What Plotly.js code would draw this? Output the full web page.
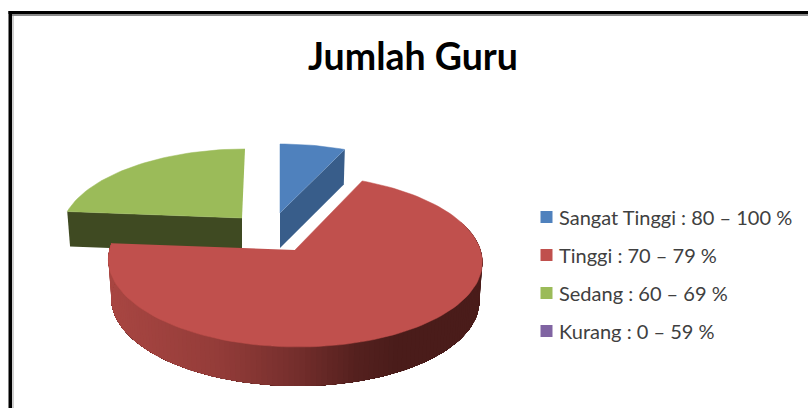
<!DOCTYPE html>
<html>
<head>
<meta charset="utf-8">
<script src="https://cdn.plot.ly/plotly-3.0.1.min.js"></script>
<style>html,body{margin:0;padding:0;background:#fff}#chart{width:808px;height:408px}</style>
</head>
<body>
<div id="chart"></div>
<script>
// Data (share of teachers, %)
const categories = ['Sangat Tinggi : 80 – 100 %', 'Tinggi : 70 – 79 %', 'Sedang : 60 – 69 %', 'Kurang : 0 – 59 %'];
const shares = [6.9, 69.4, 23.7, 0];
const faceColors = ['#4F81BD', '#C0504D', '#9BBB59', '#8064A2'];
const wallColors = ['#385D8A', null, '#3F4A22', null];
const chartTitle = 'Jumlah Guru';

// Projection of each exploded slice on the page (perspective tilted disc)
const views = [
  {cx: 280, cy: 213, a: 80.7, b: 178, k: 0.169, shear: 0, depth: 35},
  {cx: 295, cy: 250, a: 84.8, b: 185.5, k: 0.1257, shear: -3, depth: 39},
  {cx: 242, cy: 218, a: 80.7, b: 178, k: 0.169, shear: 3, depth: 35}
];
const project = (v, deg, lower) => {
  const t = deg * Math.PI / 180, s = Math.sin(t), c = Math.cos(t), d = 1 + v.k * c;
  let x = v.b * s / d + v.shear * c, y = -v.a * c / d;
  if (lower) { x *= 0.984; y += v.depth; }
  return [v.cx + x, v.cy + y];
};
const arc = (v, from, to, lower) => {
  const pts = [], n = Math.max(2, Math.ceil(Math.abs(to - from) / 2));
  for (let i = 0; i <= n; i++) pts.push(project(v, from + (to - from) * i / n, lower));
  return pts;
};
const polygon = (pts, color, width) => ({
  type: 'scatter', mode: 'lines', x: pts.map(p => p[0]), y: pts.map(p => p[1]),
  fill: 'toself', fillcolor: color, line: {color: color, width: width || 0},
  hoverinfo: 'skip', showlegend: false
});
const apex = v => [v.cx, v.cy];
const apexLow = v => [v.cx, v.cy + v.depth];

// slice angle ranges, clockwise from the top
const ranges = []; let acc = 0;
shares.forEach(s => { ranges.push([acc, acc + s * 3.6]); acc += s * 3.6; });

const traces = [];
// green
{
  const v = views[2], [f, t] = ranges[2];
  const cut = [project(v, f), apex(v), apexLow(v), project(v, f, true)];
  traces.push(polygon(cut, wallColors[2]));
  traces.push(polygon([apex(v), ...arc(v, f, t)], faceColors[2], 0.5));
}
// blue
{
  const v = views[0], [f, t] = ranges[0];
  const cut = [apex(v), project(v, t), project(v, t, true), apexLow(v)];
  traces.push(polygon(cut, wallColors[0]));
  traces.push(polygon([apex(v), ...arc(v, f, t)], faceColors[0], 0.5));
}
// red: shaded rim painted from the dark end onward with overlap so no seams show, then face
{
  const v = views[1], [f, t] = ranges[1];
  const stops = [[111, [168, 70, 66]], [220, [148, 60, 57]], [300, [116, 46, 44]], [360, [84, 32, 30]], [400, [74, 28, 26]], [480, [74, 28, 26]]];
  const shade = x => {
    let i = 0; while (i < stops.length - 2 && x > stops[i + 1][0]) i++;
    const [x0, c0] = stops[i], [x1, c1] = stops[i + 1];
    const q = Math.min(1, Math.max(0, (x - x0) / (x1 - x0)));
    return 'rgb(' + c0.map((c, j) => Math.round(c + (c1[j] - c) * q)).join(',') + ')';
  };
  for (let d = 70; d < t - 1; d += 1.5) {
    const rimPts = [...arc(v, d, t), ...arc(v, d, t, true).reverse()];
    traces.push(polygon(rimPts, shade(project(v, d)[0])));
  }
  traces.push(polygon([apex(v), ...arc(v, f, t)], faceColors[1], 0.5));
}
// key: square swatch with its label, one per category
const keyX = 546.5, keyTop = 217, keyStep = 38;
traces.push({
  type: 'scatter', mode: 'markers', x: categories.map(() => keyX), y: categories.map((_, i) => keyTop + i * keyStep),
  marker: {symbol: 'square', size: 12, color: faceColors}, hoverinfo: 'skip', showlegend: false
});

const layout = {
  width: 808, height: 408, margin: {l: 0, r: 0, t: 0, b: 0},
  paper_bgcolor: '#fff', plot_bgcolor: '#fff', showlegend: false,
  title: {text: '<b>' + chartTitle + '</b>', x: 413 / 808, xanchor: 'center', y: 1 - 57 / 408, yanchor: 'middle',
          font: {family: 'Lato, sans-serif', size: 37.5, color: '#000'}},
  xaxis: {range: [0, 808], visible: false, fixedrange: true},
  yaxis: {range: [408, 0], visible: false, fixedrange: true},
  annotations: categories.map((c, i) => ({
    text: c, x: 558, y: keyTop + i * keyStep, xref: 'x', yref: 'y', xanchor: 'left', yanchor: 'middle',
    showarrow: false, xshift: -1, font: {family: 'Lato, sans-serif', size: 20, color: '#404040'}
  })),
  shapes: [
    {type: 'rect', xref: 'x', yref: 'y', x0: 11.5, x1: 14, y0: 14, y1: 408, fillcolor: '#cfcfcf', line: {width: 0}},
    {type: 'rect', xref: 'x', yref: 'y', x0: 11.5, x1: 808, y0: 14, y1: 16, fillcolor: '#8a8a8a', line: {width: 0}},
    {type: 'rect', xref: 'x', yref: 'y', x0: 8.5, x1: 12, y0: 11, y1: 408, fillcolor: '#000', line: {width: 0}},
    {type: 'rect', xref: 'x', yref: 'y', x0: 8.5, x1: 808, y0: 11, y1: 14, fillcolor: '#000', line: {width: 0}}
  ]
};
Plotly.newPlot('chart', traces, layout, {displayModeBar: false, staticPlot: true});
</script>
</body>
</html>
